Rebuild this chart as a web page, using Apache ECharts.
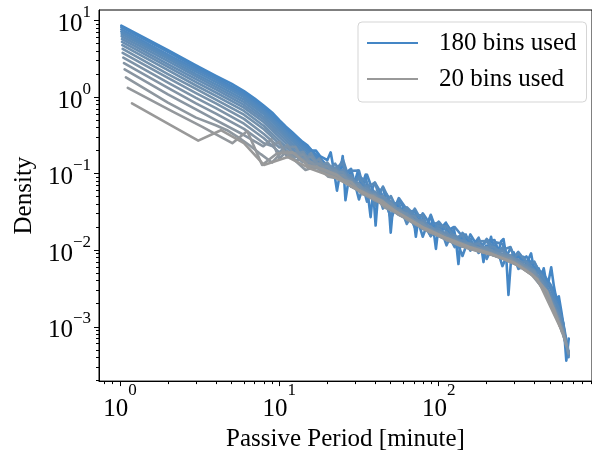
<!DOCTYPE html>
<html><head><meta charset="utf-8">
<script src="https://cdn.jsdelivr.net/npm/echarts@6/dist/echarts.min.js"></script>
<style>html,body{margin:0;padding:0;background:#fff}#c{width:592px;height:457px}</style>
</head><body><div id="c"></div>
<script>
// ---------- tick values ----------
const xMajor = [1, 10, 100];
const xMinor = [0.8, 0.9, 2, 3, 4, 5, 6, 7, 8, 9, 20, 30, 40, 50, 60, 70, 80, 90, 200, 300, 400, 500, 600, 700, 800, 900];
const yMajor = [0.001, 0.01, 0.1, 1, 10];
const yMinor = [0.0002, 0.0003, 0.0004, 0.0005, 0.0006, 0.0007, 0.0008, 0.0009,
  0.002, 0.003, 0.004, 0.005, 0.006, 0.007, 0.008, 0.009,
  0.02, 0.03, 0.04, 0.05, 0.06, 0.07, 0.08, 0.09,
  0.2, 0.3, 0.4, 0.5, 0.6, 0.7, 0.8, 0.9, 2, 3, 4, 5, 6, 7, 8, 9];

// ---------- series: number of bins ----------
const binCounts = [180, 170, 160, 150, 140, 130, 120, 110, 100, 90, 80, 70, 60, 50, 40, 30, 20];

// 180 bins (passive period in minutes, density)
const x180 = [1.02, 2, 3, 4, 5, 6, 7, 8, 9, 10, 11, 12, 13, 14, 15, 16, 17, 18, 19, 20, 21, 22, 23, 24, 25, 26,
  27.0, 28.0, 29.0, 30.1, 31.2, 32.4, 33.6, 34.8, 36.1, 37.4, 38.8, 40.2, 41.7, 43.3, 44.9, 46.5, 48.2, 50.0, 51.9, 53.8,
  55.8, 57.8, 60.0, 62.2, 64.5, 66.9, 69.3, 71.9, 74.5, 77.3, 80.1, 83.1, 86.2, 89.3, 92.6, 96.1, 99.6,
  103, 107, 111, 115, 119, 124, 128, 133, 138, 143, 148, 154, 159, 165, 171, 178, 184, 191, 198,
  205, 213, 221, 229, 237, 246, 255, 265, 274, 285, 295, 306, 317, 329, 341, 354, 367, 380, 394,
  409, 424, 440, 456, 473, 490, 508, 527, 547, 567, 588, 609, 632, 655];
const y180 = [8.6, 4.1, 2.6, 1.9, 1.5, 1.2, 0.96, 0.77, 0.63, 0.50, 0.41, 0.35, 0.30, 0.26, 0.235, 0.2, 0.2, 0.17, 0.16, 0.15, 0.19, 0.11, 0.06, 0.1, 0.17, 0.045,
  0.075, 0.11, 0.07, 0.085, 0.11, 0.07, 0.078, 0.097, 0.05, 0.027, 0.06, 0.021, 0.055, 0.05, 0.04, 0.056, 0.05, 0.017, 0.04, 0.034,
  0.042, 0.03, 0.036, 0.027, 0.032, 0.025, 0.028, 0.015, 0.026, 0.022, 0.027, 0.021, 0.024, 0.028, 0.019, 0.0104, 0.02,
  0.017, 0.021, 0.023, 0.016, 0.019, 0.02, 0.014, 0.0066, 0.015, 0.013, 0.016, 0.012, 0.014, 0.011, 0.013, 0.0105, 0.012, 0.007, 0.0115,
  0.011, 0.015, 0.0105, 0.012, 0.0095, 0.013, 0.014, 0.0085, 0.0026, 0.008, 0.0094, 0.0075, 0.0088, 0.0072, 0.0082, 0.0065, 0.0078, 0.0091, 0.006,
  0.0052, 0.0058, 0.0045, 0.0058, 0.0038, 0.004, 0.006, 0.0035, 0.0023, 0.0025, 0.0016, 0.001, 0.00036, 0.0007];

// 170..50 bins: left part at integer minutes, first bin centre per series
const xLeft = [1, 2, 3, 4, 6, 8, 10, 12, 14, 16, 18, 20, 22, 24];
const firstX = [1.02, 1.02, 1.02, 1.025, 1.025, 1.03, 1.03, 1.035, 1.04, 1.04, 1.05, 1.06, 1.07];
const yL170 = [8.2, 3.9, 2.45, 1.8, 1.13, 0.73, 0.47, 0.33, 0.245, 0.2, 0.16, 0.127, 0.107, 0.09];
const yL160 = [7.7, 3.6, 2.3, 1.69, 1.06, 0.68, 0.44, 0.31, 0.23, 0.186, 0.15, 0.12, 0.1];
const yL150 = [7.2, 3.4, 2.16, 1.58, 1.0, 0.64, 0.42, 0.29, 0.216, 0.175, 0.141, 0.112, 0.094];
const yL140 = [6.7, 3.2, 2.0, 1.47, 0.93, 0.6, 0.39, 0.27, 0.2, 0.163, 0.132, 0.104];
const yL130 = [6.25, 2.95, 1.87, 1.36, 0.86, 0.55, 0.36, 0.25, 0.187, 0.151, 0.122];
const yL120 = [5.75, 2.7, 1.72, 1.26, 0.79, 0.51, 0.33, 0.23, 0.172, 0.139];
const yL110 = [5.26, 2.48, 1.57, 1.15, 0.73, 0.47, 0.30, 0.21, 0.157, 0.127];
const yL100 = [4.77, 2.25, 1.42, 1.04, 0.66, 0.42, 0.27, 0.19, 0.142];
const yL90 = [4.27, 2.0, 1.28, 0.93, 0.59, 0.38, 0.245, 0.17];
const yL80 = [3.78, 1.78, 1.13, 0.83, 0.52, 0.33, 0.22];
const yL70 = [3.29, 1.55, 0.98, 0.72, 0.45, 0.29, 0.19];
const yL60 = [2.79, 1.32, 0.83, 0.61, 0.385, 0.25];
const yL50 = [2.3, 1.09, 0.69, 0.5, 0.32];

// 170..50 bins: right part on a shared set of bin centres
const xMid = [7.08, 7.94, 8.91, 10.0, 11.2, 12.6, 14.1, 15.8, 17.8, 20.0, 22.4, 25.1, 28.2, 31.6, 35.5, 39.8, 44.7, 50.1, 56.2, 63.1,
  70.8, 79.4, 89.1, 100, 112, 126, 141, 158, 178, 200, 224, 251, 282, 316, 355, 398, 447, 501, 562, 603, 631, 653];
const yM170 = [null, null, null, null, null, null, null, null, null, null, null, null,
  0.116, 0.046, 0.097, 0.05, 0.066, 0.0255, 0.046, 0.031, 0.033, 0.015, 0.029, 0.0153, 0.022, 0.0153, 0.0084, 0.0161, 0.0107, 0.0132, 0.0136, 0.0062, 0.0107, 0.0066, 0.0083, 0.006, 0.0051, 0.0036, 0.0022, 0.0011, 0.0006, 0.00042];
const yM160 = [null, null, null, null, null, null, null, null, null, null, null,
  0.096, 0.109, 0.11, 0.043, 0.0765, 0.051, 0.027, 0.048, 0.034, 0.0198, 0.0304, 0.0213, 0.023, 0.0116, 0.0201, 0.0151, 0.0104, 0.0146, 0.0077, 0.0128, 0.0121, 0.0071, 0.0095, 0.0069, 0.0069, 0.0046, 0.0032, 0.0019, 0.0011, 0.0006, 0.0004];
const yM150 = [null, null, null, null, null, null, null, null, null, null, null,
  0.152, 0.0714, 0.093, 0.0765, 0.038, 0.068, 0.041, 0.041, 0.022, 0.035, 0.0228, 0.0153, 0.0237, 0.0178, 0.011, 0.0168, 0.0135, 0.0092, 0.0141, 0.0102, 0.0101, 0.011, 0.0057, 0.0063, 0.0071, 0.0042, 0.0034, 0.0017, 0.00115, 0.00069, 0.00047];
const yM140 = [null, null, null, null, null, null, null, null, null, null,
  0.117, 0.136, 0.068, 0.087, 0.066, 0.0765, 0.035, 0.051, 0.0305, 0.0364, 0.0286, 0.0285, 0.0153, 0.0207, 0.0206, 0.0146, 0.0157, 0.0099, 0.0131, 0.0132, 0.0085, 0.0109, 0.0071, 0.0091, 0.0072, 0.0055, 0.0046, 0.0027, 0.0018, 0.00098, 0.00063, 0.00045];
const yM130 = [null, null, null, null, null, null, null, null, null,
  0.11, 0.135, 0.096, 0.095, 0.064, 0.069, 0.052, 0.051, 0.041, 0.032, 0.034, 0.025, 0.024, 0.0187, 0.019, 0.0158, 0.0159, 0.0123, 0.0125, 0.0107, 0.0109, 0.011, 0.0086, 0.0085, 0.0072, 0.0069, 0.0051, 0.004, 0.0027, 0.0014, 0.00098, 0.0006, 0.00042];
const yM120 = [null, null, null, null, null, null, null, null, null,
  0.13, 0.099, 0.112, 0.082, 0.075, 0.056, 0.0585, 0.045, 0.044, 0.032, 0.031, 0.024, 0.0247, 0.0196, 0.0168, 0.0171, 0.0134, 0.0134, 0.012, 0.0121, 0.010, 0.0098, 0.0098, 0.0078, 0.0076, 0.006, 0.0055, 0.0037, 0.0025, 0.0015, 0.00094, 0.0006, 0.00045];
const yM110 = [null, null, null, null, null, null, null, null,
  0.158, 0.11, 0.12, 0.092, 0.088, 0.064, 0.064, 0.0495, 0.051, 0.037, 0.035, 0.0286, 0.0275, 0.021, 0.0204, 0.0168, 0.0158, 0.0146, 0.0123, 0.012, 0.0107, 0.0109, 0.0094, 0.009, 0.0085, 0.0069, 0.0063, 0.0051, 0.0038, 0.0024, 0.0014, 0.00094, 0.0006, 0.00045];
const yM100 = [null, null, null, null, null, null, null,
  0.186, 0.124, 0.14, 0.104, 0.104, 0.075, 0.0725, 0.056, 0.054, 0.043, 0.041, 0.032, 0.030, 0.0242, 0.0228, 0.0179, 0.0176, 0.0151, 0.014, 0.0123, 0.012, 0.0102, 0.0105, 0.0094, 0.0086, 0.0082, 0.0069, 0.006, 0.0053, 0.0035, 0.0024, 0.0013, 0.0009, 0.0006, 0.00045];
const yM90 = [null, null, null, null, null, null,
  0.193, 0.136, 0.153, 0.11, 0.1125, 0.088, 0.082, 0.064, 0.059, 0.0495, 0.045, 0.0357, 0.0334, 0.0286, 0.0242, 0.0219, 0.0179, 0.0168, 0.0151, 0.0128, 0.0123, 0.0114, 0.0102, 0.010, 0.0089, 0.0086, 0.0075, 0.0069, 0.0058, 0.0051, 0.0034, 0.0023, 0.0013, 0.00085, 0.0006, 0.00045];
const yM80 = [null, null, null, null, null,
  0.225, 0.152, 0.167, 0.124, 0.125, 0.0945, 0.096, 0.075, 0.067, 0.0535, 0.052, 0.041, 0.0374, 0.032, 0.0273, 0.0242, 0.020, 0.0187, 0.0161, 0.0144, 0.0134, 0.0118, 0.0109, 0.0107, 0.0096, 0.0089, 0.0082, 0.0078, 0.0066, 0.0058, 0.0048, 0.0034, 0.0022, 0.0013, 0.00085, 0.0006, 0.00045];
const yM70 = [null, null, null, null,
  0.238, 0.165, 0.179, 0.13, 0.136, 0.105, 0.1035, 0.084, 0.075, 0.061, 0.056, 0.045, 0.043, 0.0357, 0.0305, 0.026, 0.0231, 0.020, 0.017, 0.0161, 0.0137, 0.0128, 0.0112, 0.0109, 0.0097, 0.0096, 0.0085, 0.0082, 0.0071, 0.0066, 0.0055, 0.0046, 0.0034, 0.0021, 0.0012, 0.00085, 0.00057];
const yM60 = [null, null,
  0.231, 0.26, 0.164, 0.1875, 0.145, 0.143, 0.113, 0.11, 0.0945, 0.084, 0.068, 0.061, 0.051, 0.047, 0.039, 0.0357, 0.029, 0.026, 0.0231, 0.019, 0.017, 0.016, 0.0137, 0.0122, 0.0112, 0.0109, 0.0097, 0.0091, 0.0085, 0.0078, 0.0075, 0.0063, 0.0055, 0.0046, 0.0032, 0.0021, 0.0012, 0.00081, 0.00057];
const yM50 = [null,
  0.228, 0.28, 0.158, 0.197, 0.15, 0.152, 0.118, 0.119, 0.10, 0.0945, 0.08, 0.068, 0.059, 0.051, 0.045, 0.04, 0.034, 0.029, 0.026, 0.022, 0.0195, 0.017, 0.0153, 0.0137, 0.0125, 0.0112, 0.0104, 0.0097, 0.0091, 0.0085, 0.0078, 0.0071, 0.0063, 0.0055, 0.0045, 0.0032, 0.0021, 0.0012, 0.00082, 0.00058];

// 40, 30, 20 bins
const x40 = [1.09, 2.0, 3.0, 3.99, 4.7, 5.5, 6.5, 7.65, 9.0, 10.6, 12.5, 14.6, 17.2, 20.3, 23.9, 28.2, 33.1, 39.0, 45.9, 54,
  63.5, 74.8, 88, 103.5, 122, 143.5, 169, 199, 234, 276, 325, 383, 450, 529, 622];
const y40 = [1.81, 0.85, 0.54, 0.43, 0.37, 0.30, 0.235, 0.18, 0.14, 0.20, 0.15, 0.112, 0.125, 0.091, 0.086, 0.078, 0.054, 0.051, 0.036, 0.031,
  0.025, 0.021, 0.0175, 0.0148, 0.0128, 0.0114, 0.0101, 0.0092, 0.0083, 0.0072, 0.0061, 0.0048, 0.0032, 0.0017, 0.00065];
const x30 = [1.12, 2.13, 3.29, 4.09, 5.07, 6.3, 7.8, 9.7, 12.1, 15.0, 18.6, 23.0, 28.6, 35.6, 44.2, 54.9, 68.2, 84.7, 105, 130, 162, 201, 250, 311, 386, 479, 594];
const y30 = [1.32, 0.65, 0.41, 0.32, 0.25, 0.36, 0.13, 0.185, 0.19, 0.13, 0.115, 0.096, 0.068, 0.054, 0.044, 0.031, 0.024, 0.018, 0.015, 0.012, 0.0102, 0.0091, 0.0078, 0.0064, 0.0048, 0.0029, 0.00085];
const x20 = [1.19, 2.26, 3.1, 4.3, 6.0, 8.0, 11.3, 15.9, 22.1, 30.6, 42.4, 58.7, 81.3, 113, 156, 217, 300, 416, 576];
const y20 = [0.83, 0.39, 0.27, 0.37, 0.25, 0.13, 0.165, 0.115, 0.09, 0.063, 0.043, 0.029, 0.0195, 0.0143, 0.011, 0.0089, 0.0068, 0.0042, 0.001];

// ---------- assembly ----------
function zipXY(xs, ys, x0) {
  const out = [];
  for (let i = 0; i < ys.length; i++) {
    if (ys[i] == null) continue;
    out.push([(i === 0 && x0 != null) ? x0 : xs[i], ys[i]]);
  }
  return out;
}
const leftArrs = [yL170, yL160, yL150, yL140, yL130, yL120, yL110, yL100, yL90, yL80, yL70, yL60, yL50];
const midArrs = [yM170, yM160, yM150, yM140, yM130, yM120, yM110, yM100, yM90, yM80, yM70, yM60, yM50];
const seriesData = [zipXY(x180, y180)];
for (let i = 0; i < leftArrs.length; i++) {
  seriesData.push(zipXY(xLeft, leftArrs[i], firstX[i]).concat(zipXY(xMid, midArrs[i])));
}
seriesData.push(zipXY(x40, y40), zipXY(x30, y30), zipXY(x20, y20));

const FONT = '"Liberation Serif", "Times New Roman", serif';
function seriesColor(n) {
  const t = (180 - n) / 160, a = [68, 134, 197], b = [153, 153, 153];
  return 'rgb(' + a.map((v, i) => Math.round(v + (b[i] - v) * t)).join(',') + ')';
}
function powLabel(v) {
  const l = Math.log10(v), e = Math.round(l);
  if (Math.abs(l - e) > 1e-6) return '';
  return '{b|10}{s|' + (e < 0 ? '\u2212' + (-e) : String(e)) + '}';
}
function richFor(lh) {
  return {
    b: { fontFamily: FONT, fontSize: 25, color: '#000', lineHeight: lh, verticalAlign: 'bottom' },
    s: { fontFamily: FONT, fontSize: 17, color: '#000', lineHeight: 18, verticalAlign: 'top' }
  };
}
const XMIN = 0.739, XMAX = 916, YMIN = 1.95e-4, YMAX = 13.76;
const tickLine = { color: '#000', width: 1 };

const series = binCounts.map((n, i) => {
  const c = seriesColor(n);
  return {
    name: n + ' bins used', type: 'line', data: seriesData[i],
    symbol: 'none', showSymbol: false, color: c,
    lineStyle: { color: c, width: 2.6, join: 'round', cap: 'round' },
    silent: true, animation: false, emphasis: { disabled: true }, clip: true
  };
});

const chart = echarts.init(document.getElementById('c'), null, { renderer: 'canvas' });
chart.setOption({
  backgroundColor: '#fff',
  animation: false,
  grid: { left: 99, top: 10, right: -8, bottom: 73, show: true, borderColor: '#000', borderWidth: 1, backgroundColor: 'transparent' },
  legend: {
    data: ['180 bins used', '20 bins used'], orient: 'vertical', left: 358, top: 22,
    icon: 'rect', itemWidth: 51, itemHeight: 2, itemGap: 8, padding: [7, 10, 9, 9],
    backgroundColor: 'rgba(255,255,255,0.8)', borderColor: '#d5d5d5', borderWidth: 1, borderRadius: 4,
    textStyle: { fontFamily: FONT, fontSize: 25, color: '#000', lineHeight: 28, padding: [0, 0, 0, 16] },
    selectedMode: false
  },
  xAxis: [
    {
      type: 'log', logBase: 10, min: XMIN, max: XMAX, position: 'bottom',
      axisLine: { show: true, lineStyle: tickLine },
      axisTick: { show: true, inside: false, length: 5, lineStyle: tickLine, customValues: xMajor },
      axisLabel: { show: true, margin: 1, customValues: xMajor, formatter: powLabel, rich: richFor(40) },
      splitLine: { show: false }, minorTick: { show: false },
      name: 'Passive Period [minute]', nameLocation: 'middle', nameGap: 40,
      nameTextStyle: { fontFamily: FONT, fontSize: 25, color: '#000' }
    },
    {
      type: 'log', logBase: 10, min: XMIN, max: XMAX, position: 'bottom', gridIndex: 0,
      axisLine: { show: false },
      axisTick: { show: true, inside: false, length: 3, lineStyle: tickLine, customValues: xMinor },
      axisLabel: { show: false }, splitLine: { show: false }
    }
  ],
  yAxis: [
    {
      type: 'log', logBase: 10, min: YMIN, max: YMAX, position: 'left',
      axisLine: { show: true, lineStyle: tickLine },
      axisTick: { show: true, inside: false, length: 5, lineStyle: tickLine, customValues: yMajor },
      axisLabel: { show: true, margin: 8, customValues: yMajor, formatter: powLabel, rich: richFor(33) },
      splitLine: { show: false }, minorTick: { show: false },
      name: 'Density', nameLocation: 'middle', nameGap: 61,
      nameTextStyle: { fontFamily: FONT, fontSize: 25, color: '#000' }
    },
    {
      type: 'log', logBase: 10, min: YMIN, max: YMAX, position: 'left', gridIndex: 0,
      axisLine: { show: false },
      axisTick: { show: true, inside: false, length: 3, lineStyle: tickLine, customValues: yMinor },
      axisLabel: { show: false }, splitLine: { show: false }
    }
  ],
  series: series
});
</script></body></html>
